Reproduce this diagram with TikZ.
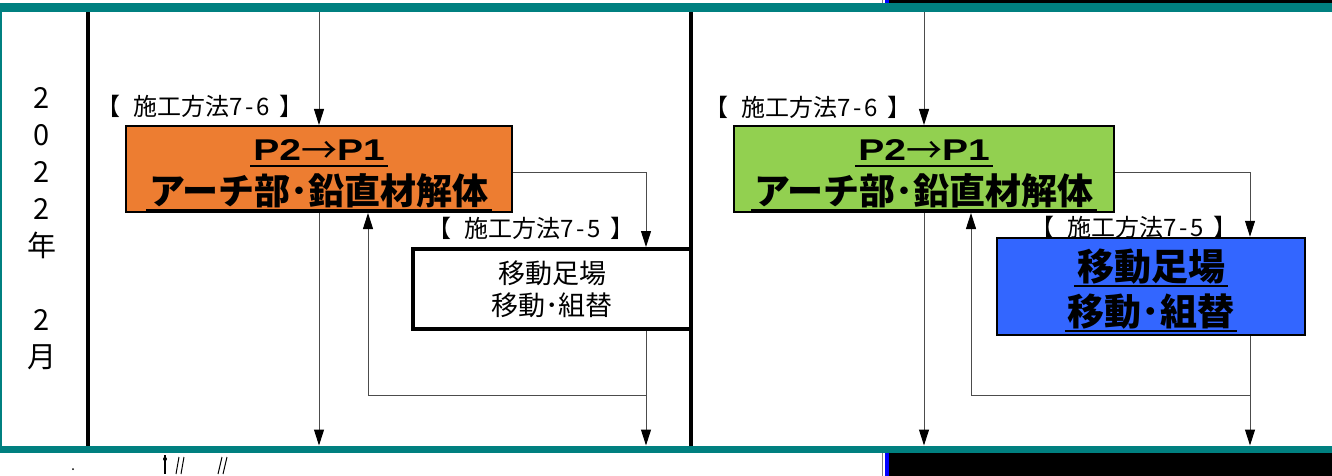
\documentclass[tikz,border=0pt]{standalone}
\usepackage{fontspec}
\setmainfont{Noto Sans CJK JP}
\newfontfamily\arialfont{Liberation Sans}
\usetikzlibrary{arrows.meta}

\definecolor{bandteal}{HTML}{008080}
\definecolor{archorange}{HTML}{ED7D31}
\definecolor{archgreen}{HTML}{92D050}
\definecolor{scafblue}{HTML}{3366FF}

% underline drawn a little wider than the text
\newsavebox\ulinebox
\newcommand\ulined[1]{\sbox\ulinebox{#1}\rlap{\kern-3pt\rule[-0.17em]{\dimexpr\wd\ulinebox+6pt\relax}{2pt}}\usebox\ulinebox}
\newcommand\pier[1]{\scalebox{1.3}[1]{\arialfont\fontsize{30}{30}\selectfont #1}}
\newcommand\pierpair{\rule{0pt}{34pt}\ulined{\pier{P2}\raisebox{-3pt}{\mdseries →}\pier{P1}}}
\newcommand\methodtext[2]{【\hspace{13pt}施工方法#1\kern3pt-\kern3pt#2\hspace{10pt}】}

\begin{document}
\begin{tikzpicture}[
    x=1pt, y=-1pt,
    flow/.style={draw=black!70, line width=1pt},
    flowarrow/.style={flow, -{Triangle[length=16pt,width=10pt,color=black]}},
    divider/.style={line width=3.5pt},
    workbox/.style={draw, line width=2pt, align=center, inner sep=0pt},
    methodlabel/.style={font=\fontsize{24}{26}\selectfont, inner sep=0pt}
]
    \useasboundingbox (0,0) rectangle (1332,476);
    \fill[white] (0,0) rectangle (1332,476);

    % frame bands
    \fill[black] (885,0) rectangle (1332,3.5);
    \fill[black] (885,452.5) rectangle (1332,476);
    \fill[blue] (885,0) rectangle (889,3.5);
    \fill[blue] (885,452.5) rectangle (889,476);
    \draw[black!50, line width=1pt] (882.5,0) -- (882.5,3.5);
    \draw[black!50, line width=1pt] (882.5,452.5) -- (882.5,476);
    \fill[bandteal] (0,3.5) rectangle (1332,12.5);
    \fill[bandteal] (0,445.5) rectangle (1332,452.5);
    \fill[bandteal] (0,12.5) rectangle (1.5,445.5);

    \draw[divider] (88,12.5) -- (88,445.5);
    \draw[divider] (691,12.5) -- (691,445.5);

    % month column
    \node[
        align=center,
        inner sep=0pt,
        font=\fontsize{29}{37}\selectfont,
        name=yearcol
    ] at (42,229) {2\\0\\2\\2\\年\\[37pt]2\\月};

    % left half
    \node[
        methodlabel,
        name=method76a
    ] at (200,106) {\methodtext{7}{6}};
    \node[
        workbox,
        fill=archorange,
        minimum width=386pt,
        minimum height=86pt,
        font=\bfseries\fontsize{36}{44}\selectfont,
        name=arch1
    ] at (319,169) {\pierpair\\\ulined{アーチ部･鉛直材解体}};
    \node[
        methodlabel,
        name=method75a
    ] at (531,228) {\methodtext{7}{5}};
    \node[
        workbox,
        line width=4pt,
        fill=white,
        minimum width=278pt,
        minimum height=80pt,
        font=\fontsize{27}{32}\selectfont,
        name=scaf1
    ] at (552,289) {移動足場\\移動･組替};

    \coordinate (top1) at (319,12.5);
    \coordinate (drop1) at (646,395);
    \coordinate (back1) at (368,395);
    \coordinate (foot1) at (646,445.5);

    \draw[flowarrow] (top1) -- (arch1);
    \draw[flowarrow] ([yshift=-3pt]arch1.east) -| (scaf1.north -| drop1);
    \draw[flowarrow] (scaf1.south -| drop1) -- (foot1);
    \draw[flowarrow] (drop1) -- (back1) -- (back1 |- arch1.south);
    \draw[flowarrow] (arch1.south) -- (arch1.south |- foot1);

    % right half
    \node[
        methodlabel,
        name=method76b
    ] at (808,107) {\methodtext{7}{6}};
    \node[
        workbox,
        fill=archgreen,
        minimum width=380pt,
        minimum height=86pt,
        font=\bfseries\fontsize{36}{44}\selectfont,
        name=arch2
    ] at (924,169) {\pierpair\\\ulined{アーチ部･鉛直材解体}};
    \node[
        methodlabel,
        name=method75b
    ] at (1134,227) {\methodtext{7}{5}};
    \node[
        workbox,
        line width=2.5pt,
        fill=scafblue,
        minimum width=308pt,
        minimum height=97pt,
        font=\bfseries\fontsize{37}{45}\selectfont,
        name=scaf2
    ] at (1151,286.5) {\rule{0pt}{39pt}\ulined{移動足場}\\\ulined{移動･組替}};

    \coordinate (top2) at (924,12.5);
    \coordinate (drop2) at (1250,395);
    \coordinate (back2) at (971,395);
    \coordinate (foot2) at (1250,445.5);

    \draw[flowarrow] (top2) -- (arch2);
    \draw[flowarrow] ([yshift=-3pt]arch2.east) -| (scaf2.north -| drop2);
    \draw[flowarrow] (scaf2.south -| drop2) -- (foot2);
    \draw[flowarrow] (drop2) -- (back2) -- (back2 |- arch2.south);
    \draw[flowarrow] (arch2.south) -- (arch2.south |- foot2);

    % stray marks under the band
    \fill (73,469) circle (1);
    \draw[line width=1.5pt] (165,455) -- (165,474);
    \fill (165,459) circle (2);
    \draw[line width=1pt] (179,457) -- (176,474);
    \draw[line width=1pt] (184,457) -- (181,474);
    \draw[line width=1pt] (222,457) -- (218,474);
    \draw[line width=1pt] (227,457) -- (223,474);
\end{tikzpicture}
\end{document}
